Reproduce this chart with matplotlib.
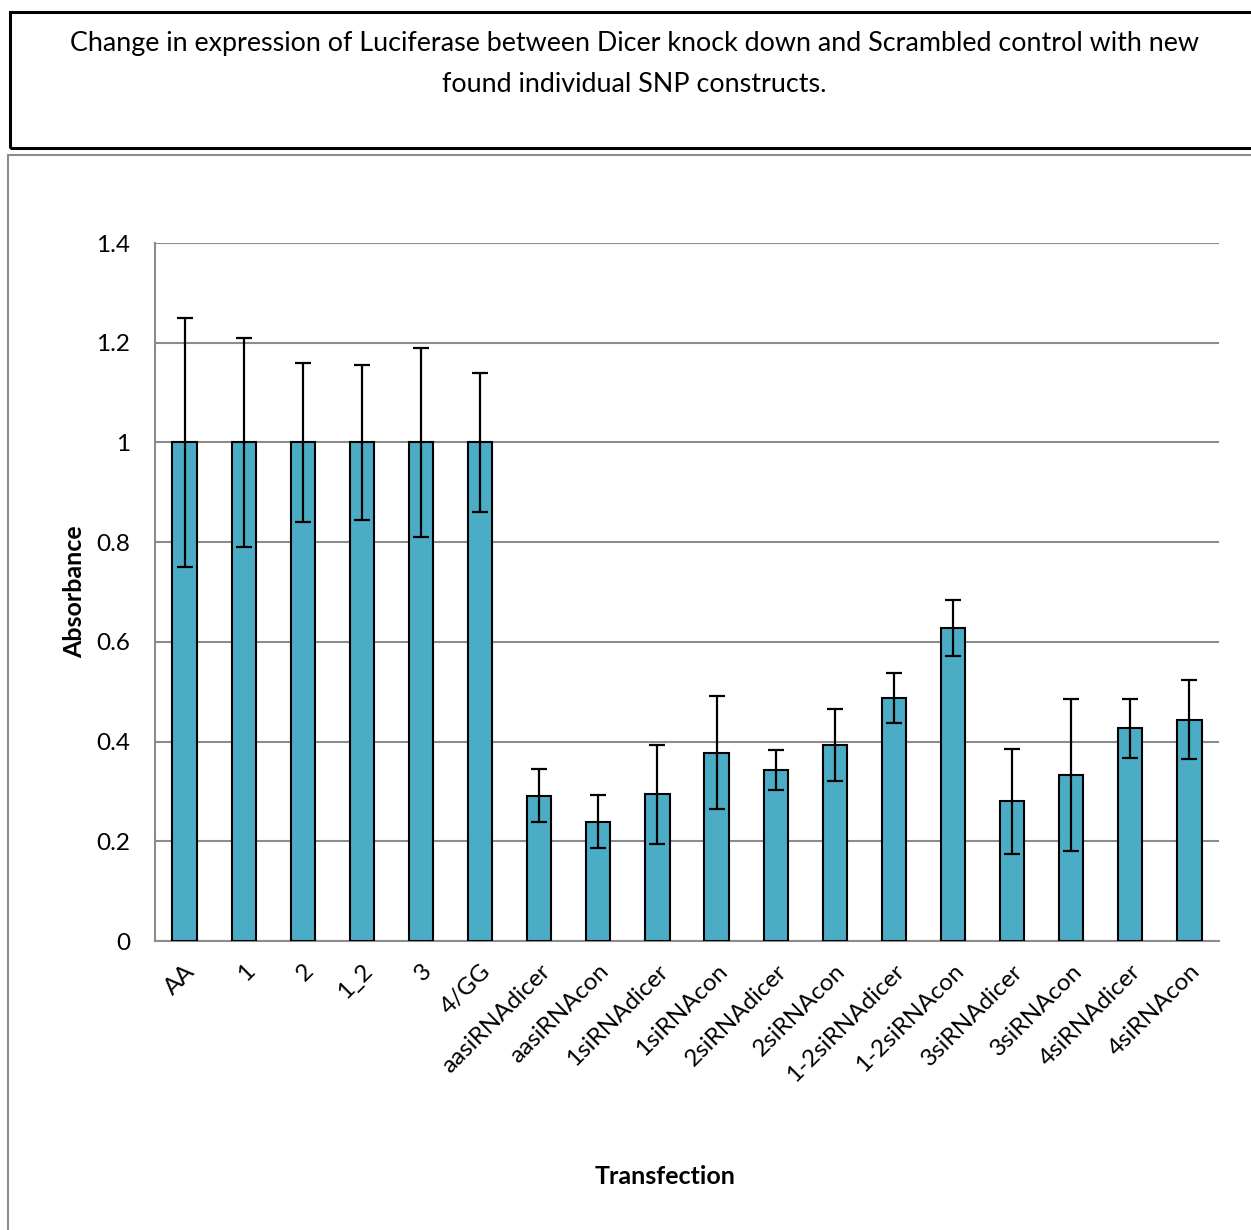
import matplotlib
matplotlib.use("Agg")
import matplotlib.pyplot as plt
from matplotlib.patches import Rectangle

categories = ["AA", "1", "2", "1_2", "3", "4/GG",
              "aasiRNAdicer", "aasiRNAcon", "1siRNAdicer", "1siRNAcon",
              "2siRNAdicer", "2siRNAcon", "1-2siRNAdicer", "1-2siRNAcon",
              "3siRNAdicer", "3siRNAcon", "4siRNAdicer", "4siRNAcon"]
values = [1.0, 1.0, 1.0, 1.0, 1.0, 1.0,
          0.291, 0.239, 0.294, 0.378, 0.343, 0.393, 0.488, 0.628,
          0.280, 0.333, 0.427, 0.444]
errors = [0.25, 0.21, 0.16, 0.155, 0.19, 0.14,
          0.053, 0.053, 0.099, 0.113, 0.041, 0.073, 0.05, 0.056,
          0.105, 0.152, 0.059, 0.079]
yticks = [0, 0.2, 0.4, 0.6, 0.8, 1, 1.2, 1.4]
ytick_labels = ["0", "0.2", "0.4", "0.6", "0.8", "1", "1.2", "1.4"]

title = ("Change in expression of Luciferase between Dicer knock down and Scrambled control with new\n"
         "found individual SNP constructs.")

W, H = 1251, 1230
fig = plt.figure(figsize=(W / 100, H / 100), dpi=100)
plt.rcParams['font.family'] = ['Lato', 'DejaVu Sans']

def fx(px):
    return px / W

def fy(py):
    return 1 - py / H

# Title box
fig.patches.append(Rectangle((fx(10), fy(148)), fx(1260) - fx(10), fy(12) - fy(148),
                             transform=fig.transFigure, fill=False, edgecolor='black',
                             linewidth=2.2, zorder=0))
fig.text(fx(634), fy(64), title, ha='center', va='center', fontsize=19.4,
         linespacing=1.75, color='black')

# Chart area box
fig.patches.append(Rectangle((fx(8), fy(1260)), fx(1270) - fx(8), fy(155) - fy(1260),
                             transform=fig.transFigure, fill=False, edgecolor='#8c8c8c',
                             linewidth=1.5, zorder=0))

ax = fig.add_axes([fx(155), fy(941), fx(1219) - fx(155), fy(243) - fy(941)])
x = list(range(len(categories)))
ax.bar(x, values, width=0.41, color='#4BACC6', edgecolor='black', linewidth=1.5, zorder=3)
ax.errorbar(x, values, yerr=errors, fmt='none', ecolor='black', elinewidth=1.6,
            capsize=6, capthick=1.6, zorder=4)

ax.set_xlim(-0.5, len(categories) - 0.5)
ax.set_ylim(0, 1.4)
ax.set_yticks(yticks)
ax.set_yticklabels(ytick_labels, fontsize=17.5)
ax.set_xticks(x)
ax.set_xticklabels(categories, rotation=45, ha='right', va='top', rotation_mode='anchor',
                   fontsize=17.5)
ax.tick_params(axis='y', length=0, pad=18)
ax.tick_params(axis='x', length=0, pad=14)
ax.grid(axis='y', color='#8c8c8c', linewidth=1.5, zorder=0)
for s in ['top', 'right']:
    ax.spines[s].set_visible(False)
for s in ['left', 'bottom']:
    ax.spines[s].set_color('#8c8c8c')
    ax.spines[s].set_linewidth(1.5)

fig.text(fx(75), fy(592), "Absorbance", rotation=90, ha='center', va='center',
         fontsize=18, fontweight='bold')
fig.text(fx(665), fy(1177), "Transfection", ha='center', va='center',
         fontsize=18, fontweight='bold')

fig.savefig("out.png", dpi=100)
